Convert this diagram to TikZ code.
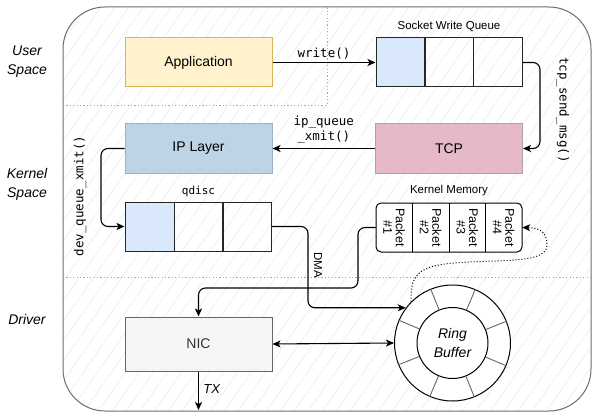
\documentclass[tikz,border=0pt]{standalone}
\usepackage{fontspec}
\setmainfont{Liberation Sans}
\setmonofont{DejaVu Sans Mono}
\usetikzlibrary{arrows.meta,calc}

\definecolor{appfill}{HTML}{FFF2CC}
\definecolor{appline}{HTML}{D6B656}
\definecolor{ipfill}{HTML}{BCD4E5}
\definecolor{ipline}{HTML}{9FB0C0}
\definecolor{tcpfill}{HTML}{E6B9C8}
\definecolor{tcpline}{HTML}{B0A0A8}
\definecolor{nicfill}{HTML}{F5F5F5}
\definecolor{nicline}{HTML}{666666}
\definecolor{cellblue}{HTML}{DAE8FC}
\definecolor{frame}{HTML}{6E6E6E}
\definecolor{hatch}{HTML}{F0F0F0}

\tikzset{
  layer/.style={draw, line width=1pt, minimum width=147pt, minimum height=49pt,
    inner sep=0pt, font=\fontsize{14}{16}\selectfont},
  cell/.style={draw=black!85, line width=1pt, minimum width=49pt, minimum height=49pt,
    inner sep=0pt},
  pktcell/.style={minimum width=36.5pt, minimum height=49pt, inner sep=0pt,
    rotate=-90, align=center, font=\fontsize{12.5}{12.5}\selectfont},
  flow/.style={line width=1.1pt, rounded corners=7pt, -{Stealth[length=8pt,width=7pt,inset=2pt]}},
  monolabel/.style={font=\ttfamily\fontsize{12.5}{15}\selectfont, align=center, inner sep=0pt},
  sidelabel/.style={font=\itshape\fontsize{14}{19}\selectfont, align=center},
  caption/.style={font=\fontsize{11.5}{13}\selectfont, inner sep=0pt},
  divider/.style={draw=gray!70, line width=0.9pt, dash pattern=on 1.2pt off 2.2pt},
}

\begin{document}
\begin{tikzpicture}[x=1pt,y=-1pt]
\useasboundingbox (0,0) rectangle (598,420);

% panel with light hatching
\begin{scope}
  \clip[rounded corners=42pt] (63,7) rectangle (591,411);
  \fill[white] (63,7) rectangle (591,411);
  \foreach \i in {-300,-286,...,600}
    \draw[hatch, line width=0.8pt] (\i,420) -- (\i+294,0);
\end{scope}
\draw[frame, line width=1pt, rounded corners=42pt] (63,7) rectangle (591,411);

% space dividers
\draw[divider] (63,105) -- (327,105) -- (327,7);
\draw[divider] (63,277) -- (591,277);

% side labels
\node[sidelabel] (lu) at (27,62) {User\\Space};
\node[sidelabel] (lk) at (27,184) {Kernel\\Space};
\node[sidelabel] (ld) at (27,319) {Driver};

% layers
\node[layer, fill=appfill, draw=appline] (app) at (198.5,62.5) {Application};
\node[layer, fill=ipfill, draw=ipline] (ip) at (198.5,148.5) {IP Layer};
\node[layer, fill=tcpfill, draw=tcpline] (tcp) at (449,148.5) {TCP};
\node[layer, fill=nicfill, draw=nicline, minimum height=54pt, text=black!80] (nic) at (198.5,344) {NIC};

% socket write queue
\node[cell, fill=cellblue] (sq1) at (400.5,62.5) {};
\node[cell] (sq2) at (449,62.5) {};
\node[cell] (sq3) at (497.5,62.5) {};
\node[caption] (sqcap) at (449,26) {Socket Write Queue};

% qdisc
\node[cell, fill=cellblue] (qd1) at (149.5,226.5) {};
\node[cell] (qd2) at (198.5,226.5) {};
\node[cell] (qd3) at (247,226.5) {};
\node[monolabel, font=\ttfamily\fontsize{11}{13}\selectfont] (qdcap) at (198.5,191) {qdisc};

% kernel memory
\draw[line width=1pt, fill=white, rounded corners=5pt] (376,203) rectangle (522,252);
\node[inner sep=0pt, minimum width=146pt, minimum height=49pt] (kmem) at (449,227.5) {};
\foreach \k/\x in {1/394.25,2/430.75,3/467.25,4/503.75}
  \node[pktcell] (pk\k) at (\x,227.5) {Packet\\\#\k};
\foreach \x in {412.5,449,485.5}
  \draw[line width=1pt] (\x,203) -- (\x,252);
\node[caption] (kmcap) at (449,191) {Kernel Memory};

% ring buffer
\node[circle, draw, line width=1pt, fill=white, minimum size=116pt, inner sep=0pt] (ring) at (452.5,343) {};
\node[circle, draw, line width=1pt, minimum size=71pt, inner sep=0pt,
  align=center, font=\itshape\fontsize{14}{19}\selectfont] (hub) at (452.5,343) {Ring\\Buffer};
\foreach \a in {22.5,67.5,...,337.5}
  \draw[black!60, line width=0.9pt] (hub.\a) -- (ring.\a);

% connectors
\draw[flow] (app.east) -- (sq1.west)
  node[midway, above=3pt, monolabel] (lwrite) {write()};
\draw[flow] (sq3.east) -- (540,62.5) -- (540,148.5) -- (tcp.east);
\node[monolabel, rotate=-90] (lsend) at (563,110) {tcp\_send\_msg()};
\draw[flow] (tcp.west) -- (ip.east)
  node[midway, above=5pt, monolabel, align=center] (lipq) {ip\_queue\\\_xmit()};
\draw[flow] (ip.west) -- (101,148.5) -- (101,226.5) -- (qd1.west);
\node[monolabel, rotate=90] (ldev) at (80,196) {dev\_queue\_xmit()};
\draw[flow] (qd3.east) -- (308,226.5) |- (ring.143);
\node[caption, rotate=-90, font=\fontsize{11.5}{13}\selectfont] (ldma) at (318,265) {DMA};
\draw[flow] (kmem.west) -- (358,227.5) -- (358,288) -- (198.5,288) -- (nic.north);
\draw[line width=1.1pt, {Stealth[length=8pt,width=7pt,inset=2pt]}-{Stealth[length=8pt,width=7pt,inset=2pt]}]
  (nic.east) -- (ring.west);
\draw[line width=1pt, dotted, -{Stealth[length=8pt,width=7pt,inset=2pt]}]
  (ring.135) .. controls (410,272) and (420,264) .. (470,262)
  .. controls (510,260) and (547,262) .. (547,245)
  .. controls (547,232) and (540,228) .. (kmem.east);
\draw[flow] (nic.south) -- (198.5,410)
  node[pos=0.45, right=1pt, font=\itshape\fontsize{13}{15}\selectfont] (ltx) {TX};
\end{tikzpicture}
\end{document}
